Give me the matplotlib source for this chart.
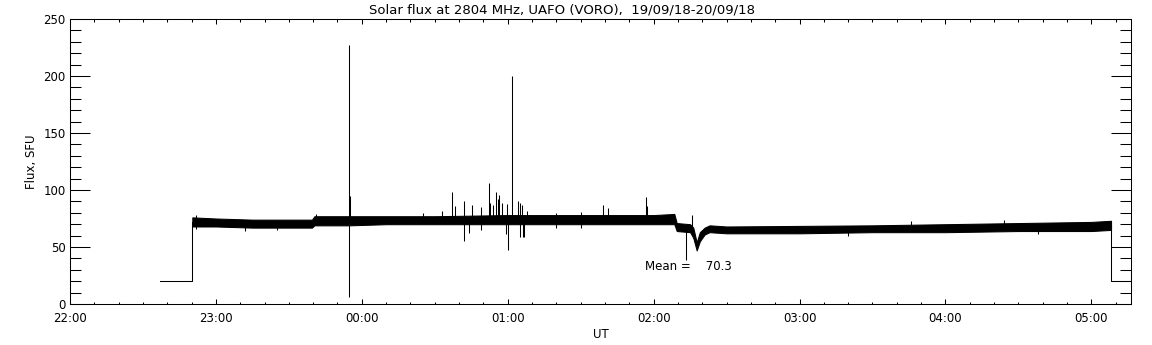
import numpy as np
import matplotlib
matplotlib.use("Agg")
import matplotlib.pyplot as plt
from matplotlib.ticker import MultipleLocator, FixedLocator, FixedFormatter

# data (time in minutes after 22:00 UT, flux in SFU)

# envelope of the noisy record
band_t = [50.3, 60, 75, 90, 99.5, 100.5, 115, 130, 150, 180, 210, 240, 248.5,
          249.5, 255, 256.3, 257.7, 259, 261, 263, 270, 300, 330, 360, 390, 420, 428.1]
band_lo = [68, 68, 67, 67, 67, 69, 69, 70, 70, 70, 70, 70, 70,
           64, 63, 58, 47, 55, 61, 63, 62, 62, 63, 63, 64, 64, 65]
band_hi = [76, 75, 74, 74, 74, 77, 77, 77, 77, 78, 78, 78, 79,
           71, 70, 67, 54, 63, 67, 69, 68, 68.5, 69, 70, 71, 72, 73]

# receiver off / calibration level at both ends
lead_t = [37.0, 50.3, 50.3]
lead_v = [20, 20, 72]
tail_t = [428.1, 428.1, 436.3]
tail_v = [69, 20, 20]

# isolated spikes: time, low, high
spk_t = [52.0, 72.0, 85.0, 101.0, 114.9, 115.1, 145.0, 153.0, 157.2, 158.2,
         162.1, 164.1, 165.4, 169.0, 172.3, 172.8, 173.8, 175.3, 176.1, 176.5,
         177.8, 179.2, 179.7, 180.2, 181.9, 184.2, 185.2, 186.0, 186.4, 186.8,
         187.8, 200.0, 210.0, 219.3, 221.4, 236.7, 237.4, 253.3, 255.9, 320.0,
         346.0, 384.0, 398.0]
spk_lo = [66, 64, 65, 72, 6, 72, 72, 72, 72, 72,
          55.5, 62.5, 72, 65, 72, 72, 72, 72, 72, 72,
          72, 61, 72, 47, 72, 72, 58.5, 72, 58.5, 58.5,
          72, 67, 67, 72, 72, 72, 72, 39, 66, 60,
          66, 66, 61]
spk_hi = [78, 72, 72, 79, 227, 95, 80, 82, 98, 86,
          90, 72, 87, 85, 106, 89, 87, 98.5, 92, 95.6,
          89, 72, 88, 72, 200, 90, 89, 87, 72, 72,
          82, 80, 81, 87, 84, 94, 86, 66, 78, 66,
          73, 74, 66]

mean_flux = 70.3

x_ticks = [0, 60, 120, 180, 240, 300, 360, 420]
x_labels = ["22:00", "23:00", "00:00", "01:00", "02:00", "03:00", "04:00", "05:00"]
y_ticks = [0, 50, 100, 150, 200, 250]

title = "Solar flux at 2804 MHz, UAFO (VORO),  19/09/18-20/09/18"

# -----------------------------------------------------

plt.rcParams['font.family'] = ['DejaVu Sans']
fs = 8.5
lw = 0.75

fig = plt.figure(figsize=(11.52, 3.45), dpi=100)
ax = fig.add_axes([70/1152, 1 - 304/345, (1131-70)/1152, (304-19)/345])

ax.fill_between(band_t, band_lo, band_hi, color='k', lw=lw)
ax.vlines(spk_t, spk_lo, spk_hi, color='k', lw=lw)
ax.plot(lead_t, lead_v, 'k-', lw=lw)
ax.plot(tail_t, tail_v, 'k-', lw=lw)

ax.text(236.4, 32.5, "Mean =    %.1f" % mean_flux, fontsize=fs, ha='left', va='center')

ax.set_xlim(0, 436.3)
ax.set_ylim(0, 250)

ax.xaxis.set_major_locator(FixedLocator(x_ticks))
ax.xaxis.set_major_formatter(FixedFormatter(x_labels))
ax.xaxis.set_minor_locator(MultipleLocator(10))
ax.yaxis.set_major_locator(FixedLocator(y_ticks))
ax.yaxis.set_minor_locator(MultipleLocator(10))

ax.tick_params(axis='both', which='both', direction='in', top=True, right=True,
               width=lw, labelsize=fs, color='k')
ax.tick_params(axis='x', which='major', length=3.6, pad=6)
ax.tick_params(axis='x', which='minor', length=1.8)
ax.tick_params(axis='y', which='major', length=14.4, pad=3)
ax.tick_params(axis='y', which='minor', length=7.9)

for s in ax.spines.values():
    s.set_linewidth(lw)

ax.set_xlabel("UT", fontsize=fs, labelpad=2)
ax.set_ylabel("Flux, SFU", fontsize=fs, labelpad=4)

fig.text(562/1152, 1 - 10/345, title, fontsize=9.5, ha='center', va='center')

fig.savefig("out.png", dpi=100)
